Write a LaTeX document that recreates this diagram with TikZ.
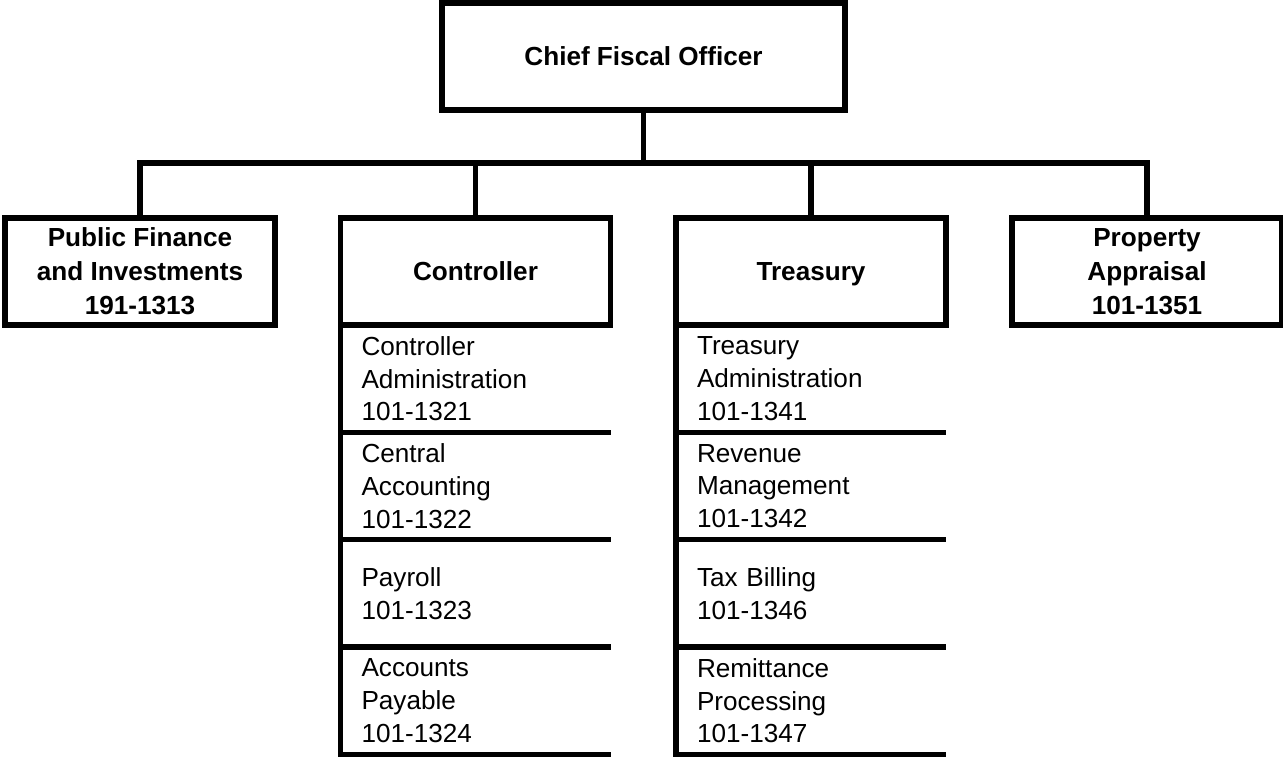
\documentclass[tikz,border=0pt]{standalone}
\usepackage{fontspec}
\setmainfont{Liberation Sans}
\usepackage{tikz}

\begin{document}
\begin{tikzpicture}[
    x=0.75pt, y=-0.75pt,
    line width=4pt,
    unit/.style={rectangle, draw, outer sep=0pt, minimum width=202.5pt, minimum height=80.25pt, align=center, font=\fontsize{19.6}{25.5}\selectfont\bfseries},
    item/.style={rectangle, outer sep=0pt, anchor=north, minimum height=80.5pt, inner ysep=0pt, inner xsep=15.75pt, text width=171pt, align=left, font=\fontsize{19.6}{24.5}\selectfont}
]
\useasboundingbox (0,0) rectangle (1283,758);

% Chef
\node[unit, minimum width=302.25pt] (chief) at (643.5,56.5) {Chief Fiscal Officer};

% Divisions
\node[unit] (pfi) at (140,271.5) {Public Finance\\and Investments\\191-1313};
\node[unit] (ctrl) at (475.5,271.5) {Controller};
\node[unit, text depth=0pt] (treas) at (811,271.5) {Treasury};
\node[unit] (prop) at (1147,271.5) {Property\\Appraisal\\101-1351};

% Sections du Controller
\node[item] (c1) at (ctrl.south) {Controller\\Administration\\101-1321};
\node[item] (c2) at (c1.south) {Central\\Accounting\\101-1322};
\node[item] (c3) at (c2.south) {Payroll\\101-1323};
\node[item] (c4) at (c3.south) {Accounts\\Payable\\101-1324};

% Sections de Treasury
\node[item] (t1) at (treas.south) {Treasury\\Administration\\101-1341};
\node[item] (t2) at (t1.south) {Revenue\\Management\\101-1342};
\node[item] (t3) at (t2.south) {Tax Billing\\101-1346};
\node[item] (t4) at (t3.south) {Remittance\\Processing\\101-1347};

% Connexions
\coordinate (bar) at (643.5,163);
\draw (chief.south) -- (bar);
\draw (pfi.north) |- (bar) -| (prop.north);
\draw (ctrl.north) -- (ctrl.north |- bar);
\draw (treas.north) -- (treas.north |- bar);

\foreach \c in {c,t} {
    \draw (ctrl.south west -| \c1.west) -- (\c4.south west) -- (\c4.south east);
    \foreach \i in {1,2,3}
        \draw (\c\i.south west) -- (\c\i.south east);
}

\end{tikzpicture}
\end{document}
